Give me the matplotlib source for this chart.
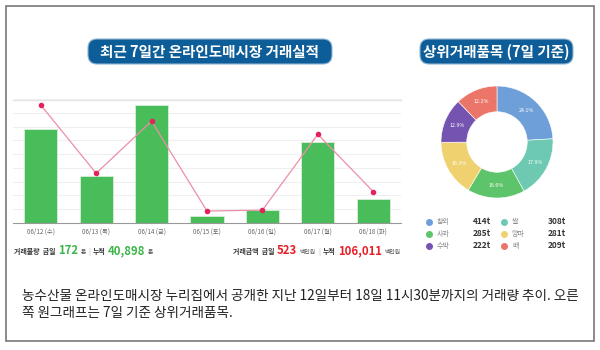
import matplotlib.pyplot as plt
from matplotlib.patches import FancyBboxPatch, Rectangle

plt.rcParams['font.family'] = ['Noto Sans CJK KR', 'DejaVu Sans']

# bar / line data
dates = ["06/12 (수)", "06/13 (목)", "06/14 (금)", "06/15 (토)", "06/16 (일)", "06/17 (월)", "06/18 (화)"]
volume_t = [683, 341, 857, 51, 92, 591, 172]          # 거래물량 (톤)
amount_m = [1970, 830, 1700, 200, 215, 1480, 523]     # 거래금액 (백만원)

# donut data
items = ["참외", "쌀", "사과", "양파", "수박", "배"]
item_t = [414, 308, 285, 281, 222, 209]
item_colors = ["#6f9fd8", "#6dc9b1", "#5ec46c", "#f0d170", "#7554b1", "#ec7569"]

blue = "#0d5e98"
green = "#3db54a"
red = "#e8202a"

fig = plt.figure(figsize=(6, 3.5), dpi=100)

# background layer in pixel coordinates
bg = fig.add_axes([0, 0, 1, 1], zorder=0)
bg.set_xlim(0, 600)
bg.set_ylim(350, 0)
bg.axis("off")

bg.add_patch(Rectangle((5.5, 5.5), 588, 335, fill=False, ec="#777777", lw=1.2))

for x0, x1, label in [(80, 340, "최근 7일간 온라인도매시장 거래실적"), (412, 581, "상위거래품목 (7일 기준)")]:
    bg.add_patch(FancyBboxPatch((x0 + 8, 39), x1 - x0 - 16, 25,
                                boxstyle="round,pad=0,rounding_size=9",
                                fc=blue, ec="#8fb4d3", lw=0.8, mutation_aspect=1))
    bg.text((x0 + x1) / 2, 52, label, color="white", fontsize=10.5,
            fontweight="bold", ha="center", va="center")

bg.plot([13, 401], [99.5, 99.5], color="#e4e4e4", lw=1)

# bar chart with amount line
ax = fig.add_axes([13 / 600, (350 - 223) / 350, 388 / 600, 124 / 350], zorder=1)
ax.patch.set_alpha(0)
x = range(len(dates))
ax.bar(x, volume_t, width=0.6, color="#48bd5a", edgecolor="#d8f0da", lw=0.6, zorder=2)
ax.set_xlim(-0.5, 6.5)
ax.set_ylim(0, 900)
ax.set_yticks(range(100, 901, 100))
ax.grid(axis="y", color="#efefef", lw=0.8, zorder=0)
ax.set_xticks(list(x))
ax.set_xticklabels(dates, fontsize=4.5, color="#666666")
ax.tick_params(axis="x", length=0, pad=3)
ax.tick_params(axis="y", length=0, labelleft=False)
for s in ["top", "right", "left"]:
    ax.spines[s].set_visible(False)
ax.spines["bottom"].set_color("#999999")
ax.spines["bottom"].set_linewidth(0.8)

ax2 = ax.twinx()
ax2.plot(x, amount_m, color="#eb8fa8", lw=0.9, zorder=3)
ax2.scatter(x, amount_m, color="#e2245c", s=9, zorder=4)
ax2.set_ylim(0, 2070)
ax2.axis("off")

# summary line under bar chart
def run(parts, x0, y):
    cur = x0
    r = fig.canvas.get_renderer()
    for txt, size, color, weight in parts:
        t = bg.text(cur, y, txt, fontsize=size, color=color, fontweight=weight, va="baseline")
        bb = t.get_window_extent(renderer=r)
        cur += bb.width + 2.5

run([("거래물량  금일", 5, "#333333", "bold"), ("172", 8.2, green, "bold"), ("톤", 4.2, "#555555", "normal"),
     ("|", 5, "#bbbbbb", "normal"), ("누적", 5, "#333333", "bold"), ("40,898", 8.2, green, "bold"),
     ("톤", 4.2, "#555555", "normal")], 14, 254)
run([("거래금액  금일", 5, "#333333", "bold"), ("523", 8.2, red, "bold"), ("백만원", 4.2, "#555555", "normal"),
     ("|", 5, "#bbbbbb", "normal"), ("누적", 5, "#333333", "bold"), ("106,011", 8.2, red, "bold"),
     ("백만원", 4.2, "#555555", "normal")], 233, 254)

# donut
axd = fig.add_axes([(497 - 62) / 600, (350 - 142 - 62) / 350, 124 / 600, 124 / 350], zorder=1)
axd.pie(item_t, colors=item_colors, startangle=90, counterclock=False,
        wedgeprops=dict(width=0.46, edgecolor="white", linewidth=0.4),
        autopct=lambda p: f"{p:.1f}%", pctdistance=0.77,
        textprops=dict(color="white", fontsize=3.8))
axd.set_xlim(-62 / 56, 62 / 56)
axd.set_ylim(-62 / 56, 62 / 56)
axd.set_aspect("equal")

# donut legend
rows = [222, 234, 246]
for i, (name, val, col) in enumerate(zip(items, item_t, item_colors)):
    row, colno = divmod(i, 2)
    dx = 429 if colno == 0 else 504
    vx = 491 if colno == 0 else 566
    y = rows[row]
    bg.scatter([dx], [y], s=16, color=col, zorder=3)
    bg.text(dx + 8, y, name, fontsize=5, color="#888888", va="center")
    bg.text(vx, y, f"{val}t", fontsize=6, color="#333333", fontweight="bold", va="center", ha="right")

# caption
bg.text(22, 296, "농수산물 온라인도매시장 누리집에서 공개한 지난 12일부터 18일 11시30분까지의 거래량 추이. 오른",
        fontsize=9.8, color="#222222", va="center")
bg.text(22, 313, "쪽 원그래프는 7일 기준 상위거래품목.", fontsize=9.8, color="#222222", va="center")

fig.savefig("out.png", dpi=100)
